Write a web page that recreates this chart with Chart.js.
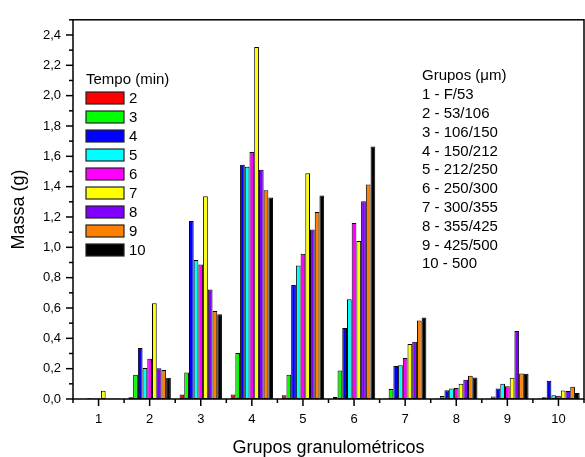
<!DOCTYPE html>
<html>
<head>
<meta charset="utf-8">
<script src="https://cdn.jsdelivr.net/npm/chart.js@4/dist/chart.umd.min.js"></script>
<style>
html,body{margin:0;padding:0;background:#fff;}
#wrap{width:585px;height:457px;}
</style>
</head>
<body>
<div id="wrap"><canvas id="c" width="585" height="457"></canvas></div>
<script>
// ---- data ----
const categories = ['1','2','3','4','5','6','7','8','9','10'];
const timeLabels = ['2','3','4','5','6','7','8','9','10'];
const t2  = [0.002, 0.011, 0.030, 0.030, 0.024, 0.013, 0.004, 0.003, 0.003, 0.003];
const t3  = [0.002, 0.160, 0.175, 0.304, 0.160, 0.188, 0.066, 0.019, 0.017, 0.011];
const t4  = [0.005, 0.336, 1.173, 1.544, 0.752, 0.468, 0.218, 0.058, 0.069, 0.121];
const t5  = [0.003, 0.205, 0.917, 1.531, 0.880, 0.658, 0.222, 0.069, 0.101, 0.024];
const t6  = [0.004, 0.265, 0.886, 1.628, 0.957, 1.160, 0.270, 0.073, 0.084, 0.022];
const t7  = [0.055, 0.632, 1.337, 2.320, 1.488, 1.041, 0.362, 0.101, 0.140, 0.056];
const t8  = [0.004, 0.203, 0.722, 1.511, 1.117, 1.304, 0.377, 0.127, 0.448, 0.052];
const t9  = [0.004, 0.192, 0.580, 1.376, 1.233, 1.414, 0.517, 0.153, 0.168, 0.080];
const t10 = [0.003, 0.140, 0.558, 1.328, 1.341, 1.664, 0.537, 0.142, 0.166, 0.039];
const seriesValues = [t2, t3, t4, t5, t6, t7, t8, t9, t10];
const seriesColors = ['#FF0000','#00FF00','#0000FF','#00FFFF','#FF00FF','#FFFF00','#8000FF','#FF8000','#000000'];
const legendTitle = 'Tempo (min)';
const groupTitle = 'Grupos (\u03BCm)';
const groupLabels = ['1 - F/53','2 - 53/106','3 - 106/150','4 - 150/212','5 - 212/250','6 - 250/300','7 - 300/355','8 - 355/425','9 - 425/500','10 - 500'];
const yMin = 0, yMax = 2.5, yMajor = 0.2, yMinor = 0.1;

const FONT = "Arial, 'Liberation Sans', sans-serif";

const datasets = seriesValues.map((vals, i) => ({
  label: timeLabels[i],
  data: vals,
  backgroundColor: seriesColors[i],
  borderColor: '#000',
  borderWidth: 1,
  borderSkipped: false,
  categoryPercentage: 0.83,
  barPercentage: 1.0
}));

const decorPlugin = {
  id: 'decor',
  afterDraw(chart) {
    const ctx = chart.ctx;
    const a = chart.chartArea;
    const xs = chart.scales.x, ys = chart.scales.y;
    ctx.save();
    ctx.strokeStyle = '#000';
    ctx.lineWidth = 1.5;
    // frame
    ctx.strokeRect(a.left, a.top, a.right - a.left, a.bottom - a.top);
    // y ticks
    const nMinor = Math.round((yMax - yMin) / yMinor);
    for (let k = 0; k <= nMinor; k++) {
      const v = yMin + k * yMinor;
      const y = ys.getPixelForValue(v);
      const major = Math.round(v * 10) % Math.round(yMajor * 10) === 0;
      const len = major ? 7 : 4;
      ctx.beginPath();
      ctx.moveTo(a.left - len, y);
      ctx.lineTo(a.left, y);
      ctx.stroke();
    }
    // x ticks
    const n = categories.length;
    for (let i = 0; i < n; i++) {
      const x = xs.getPixelForValue(i);
      ctx.beginPath();
      ctx.moveTo(x, a.bottom);
      ctx.lineTo(x, a.bottom + 7);
      ctx.stroke();
    }
    for (let i = 0; i <= n; i++) {
      let x;
      if (i === 0) x = a.left;
      else if (i === n) x = a.right;
      else x = (xs.getPixelForValue(i - 1) + xs.getPixelForValue(i)) / 2;
      ctx.beginPath();
      ctx.moveTo(x, a.bottom);
      ctx.lineTo(x, a.bottom + 4);
      ctx.stroke();
    }
    // legend
    ctx.fillStyle = '#000';
    ctx.font = '15px ' + FONT;
    ctx.textBaseline = 'middle';
    ctx.textAlign = 'left';
    ctx.fillText(legendTitle, 86, 80);
    chart.data.datasets.forEach((ds, i) => {
      const cy = 98 + i * 19;
      ctx.fillStyle = ds.backgroundColor;
      ctx.fillRect(86, cy - 6, 38, 12);
      ctx.lineWidth = 1.2;
      ctx.strokeStyle = '#222';
      ctx.strokeRect(86, cy - 6, 38, 12);
      ctx.fillStyle = '#000';
      ctx.fillText(ds.label, 129, cy + 0.5);
    });
    // groups text
    ctx.font = '15px ' + FONT;
    ctx.fillText(groupTitle, 422, 76);
    groupLabels.forEach((t, i) => {
      ctx.fillText(t, 422, 95 + i * 18.8);
    });
    ctx.restore();
  }
};

new Chart(document.getElementById('c'), {
  type: 'bar',
  data: { labels: categories, datasets: datasets },
  options: {
    responsive: false,
    devicePixelRatio: 1,
    animation: false,
    layout: { padding: { top: 12, right: 1, left: 0, bottom: 0 } },
    plugins: { legend: { display: false }, tooltip: { enabled: false } },
    scales: {
      x: {
        type: 'category',
        offset: true,
        grid: { display: false, drawTicks: false },
        border: { display: false },
        ticks: { color: '#000', font: { family: FONT, size: 13 }, padding: 13, maxRotation: 0 },
        title: { display: true, text: 'Grupos granulom\u00e9tricos', color: '#000', font: { family: FONT, size: 18 }, padding: { top: 0, bottom: -2 } },
        afterFit(s) { s.height = 58; }
      },
      y: {
        min: yMin,
        max: yMax,
        grid: { display: false, drawTicks: false },
        border: { display: false },
        ticks: {
          stepSize: yMajor,
          color: '#000',
          font: { family: FONT, size: 13 },
          padding: 12,
          callback: (v) => {
            const k = Math.round(v * 10);
            if (k % Math.round(yMajor * 10) !== 0) return '';
            return (k / 10).toFixed(1).replace('.', ',');
          }
        },
        title: { display: true, text: 'Massa (g)', color: '#000', font: { family: FONT, size: 18 }, padding: { top: 8, bottom: 0 } },
        afterFit(s) { s.width = 73; }
      }
    }
  },
  plugins: [decorPlugin]
});
</script>
</body>
</html>
